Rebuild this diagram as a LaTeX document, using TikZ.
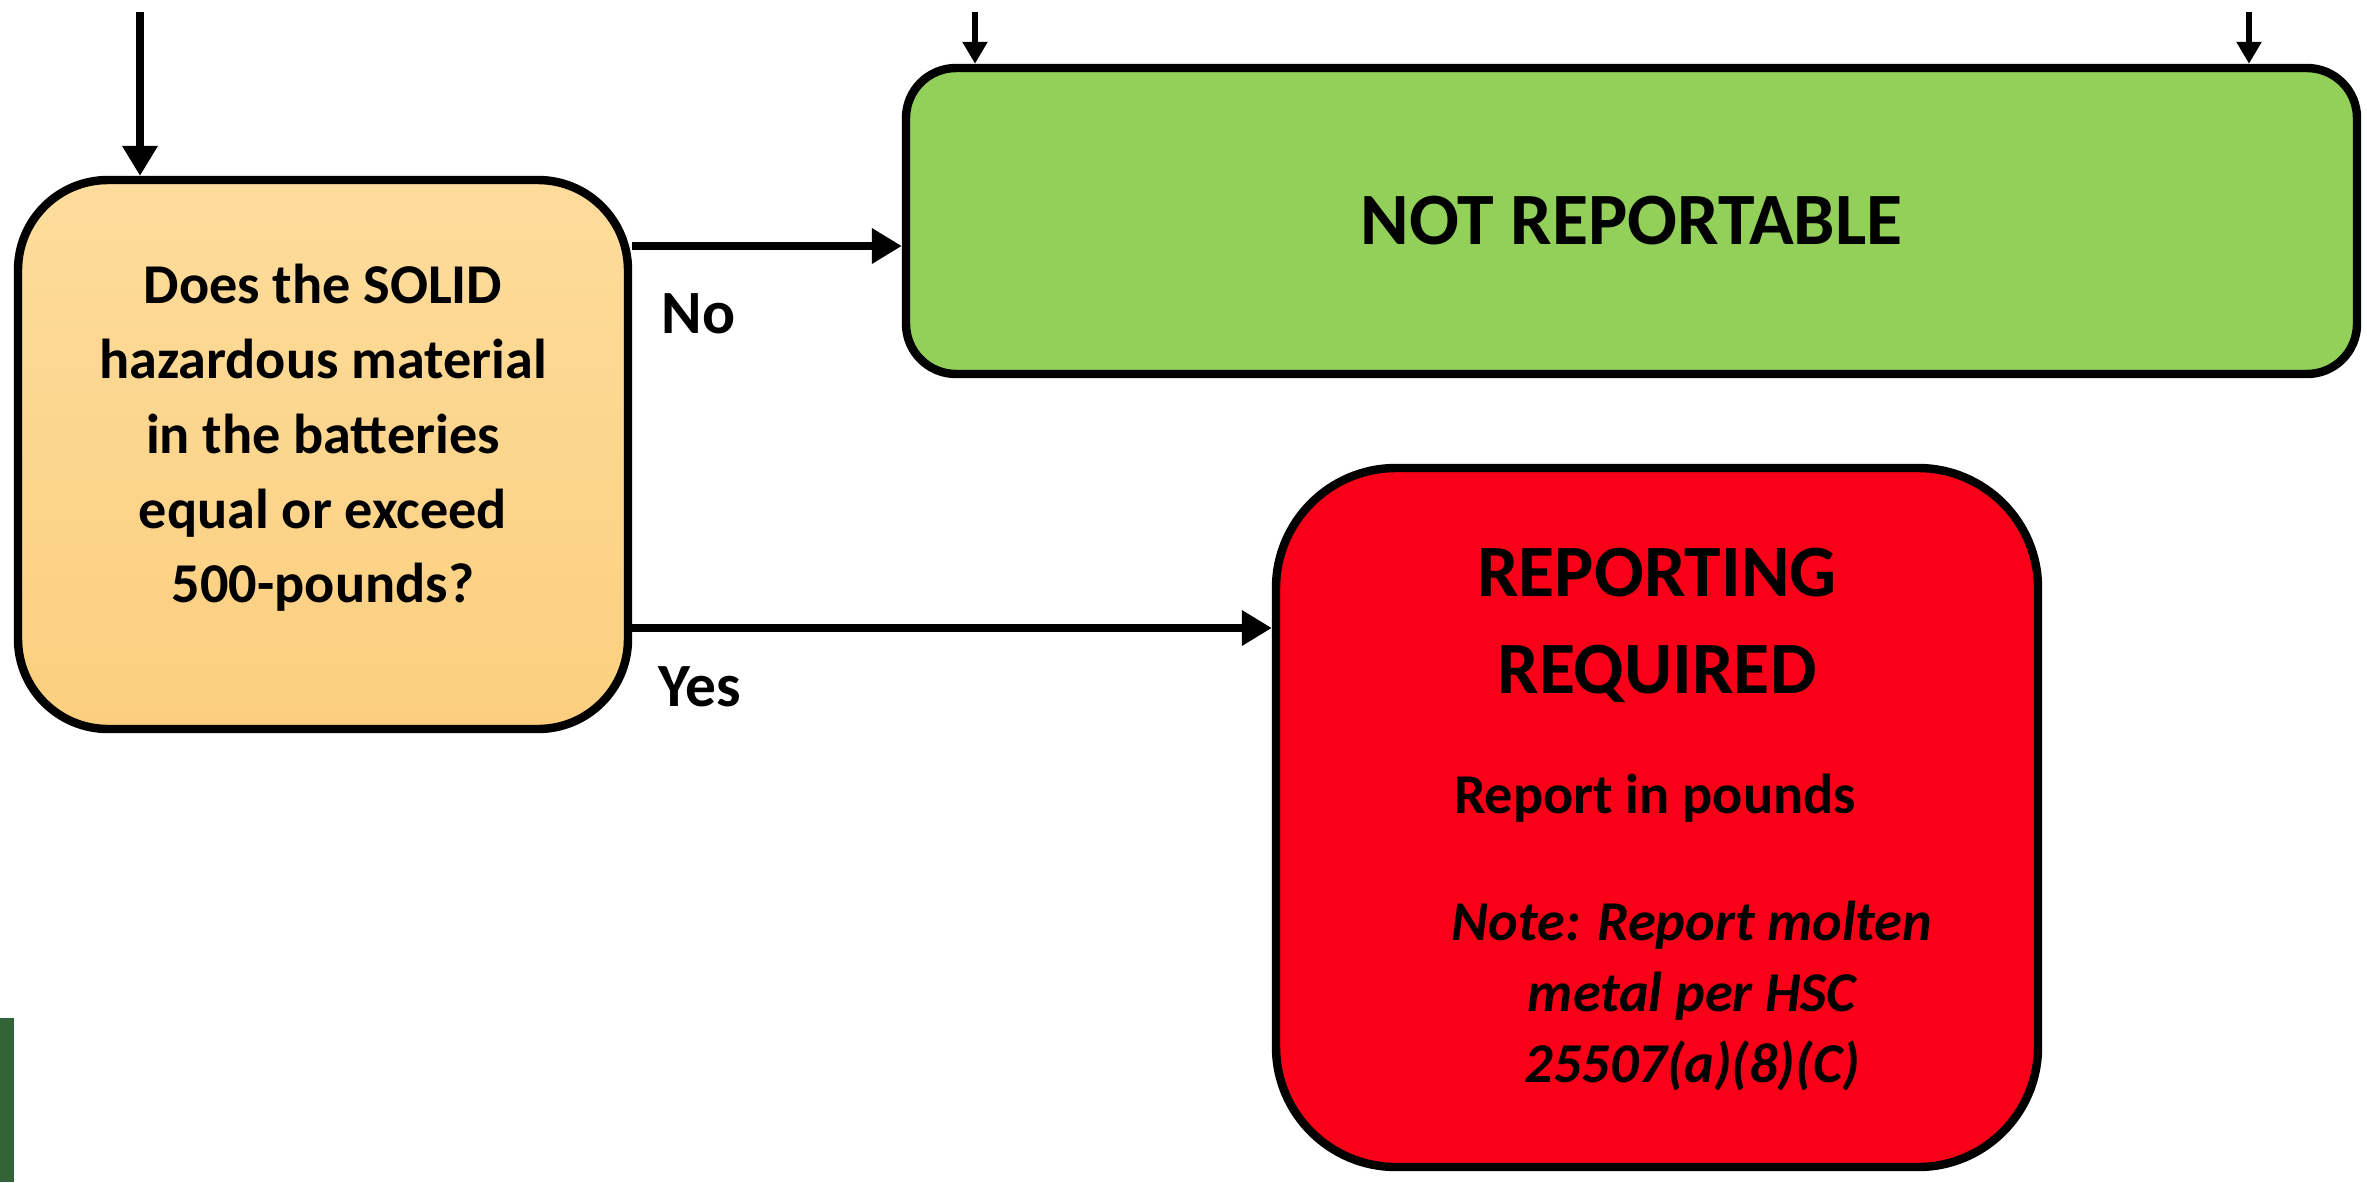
\documentclass[tikz,border=0pt]{standalone}
\usepackage{fontspec}
\setmainfont{Carlito}
\usetikzlibrary{arrows.meta, positioning}
\definecolor{questiontop}{RGB}{253, 220, 156}
\definecolor{questionbottom}{RGB}{251, 207, 126}
\definecolor{passgreen}{RGB}{146, 208, 90}
\definecolor{failred}{RGB}{250, 0, 24}
\definecolor{edgegreen}{RGB}{50, 100, 56}

\begin{document}
\begin{tikzpicture}[
    box/.style={rectangle, draw=black, line width=2.4pt, align=center},
    question/.style={box, rounded corners=9mm, top color=questiontop, bottom color=questionbottom,
                     minimum width=6.1cm, minimum height=5.49cm, text depth=12pt,
                     font=\fontsize{16}{21.3}\selectfont\bfseries},
    outcome/.style={box, font=\fontsize{21}{27.4}\selectfont\bfseries},
    flow/.style={-{Triangle[length=3mm, width=3.4mm]}, line width=2pt},
    feed/.style={-{Triangle[length=2.2mm, width=2.4mm]}, line width=1.5pt},
    answer/.style={anchor=west, inner sep=0pt, font=\fontsize{17.5}{21}\selectfont\bfseries},
]
    \useasboundingbox (0,0) rectangle (23.67,11.82);

    % Cut-off shape at the left edge
    \fill[edgegreen] (0,0) rectangle (0.14,1.64);

    % Question
    \node[question] (q) at (3.23,7.275) {Does the SOLID\\hazardous material\\in the batteries\\equal or exceed\\500-pounds?};

    % Outcomes
    \node[outcome, fill=passgreen, rounded corners=5mm, minimum width=14.51cm, minimum height=3.06cm]
        (np) at (16.315,9.61) {NOT REPORTABLE};
    \node[outcome, fill=failred, rounded corners=12mm, minimum width=7.62cm, minimum height=6.99cm]
        (rr) at (16.57,3.645) {};
    \node[font=\fontsize{21}{27.4}\selectfont\bfseries, align=center] (rrtitle) at (16.57,5.565) {REPORTING\\REQUIRED};
    \node[font=\fontsize{16}{20}\selectfont\bfseries] (rrunit) at (16.55,3.84) {Report in pounds};
    \node[font=\fontsize{16}{20.2}\selectfont\bfseries\itshape, align=center] (rrnote) at (16.92,1.86)
        {Note: Report molten\\metal per HSC\\25507(a)(8)(C)};

    % Incoming arrows
    \coordinate (in1) at (1.40,11.70);
    \coordinate (in2) at (9.75,11.70);
    \coordinate (in3) at (22.49,11.70);
    \draw[flow] (in1) -- (in1 |- q.north);
    \draw[feed] (in2) -- (in2 |- np.north);
    \draw[feed] (in3) -- (in3 |- np.north);

    % Answers
    \draw[flow] (q.east |- 0,9.36) -- (np.west |- 0,9.36);
    \node[answer] (nolabel) at (6.61,8.68) {No};
    \draw[flow] (q.east |- 0,5.54) -- (rr.west |- 0,5.54);
    \node[answer] (yeslabel) at (6.58,4.95) {Yes};
\end{tikzpicture}
\end{document}
